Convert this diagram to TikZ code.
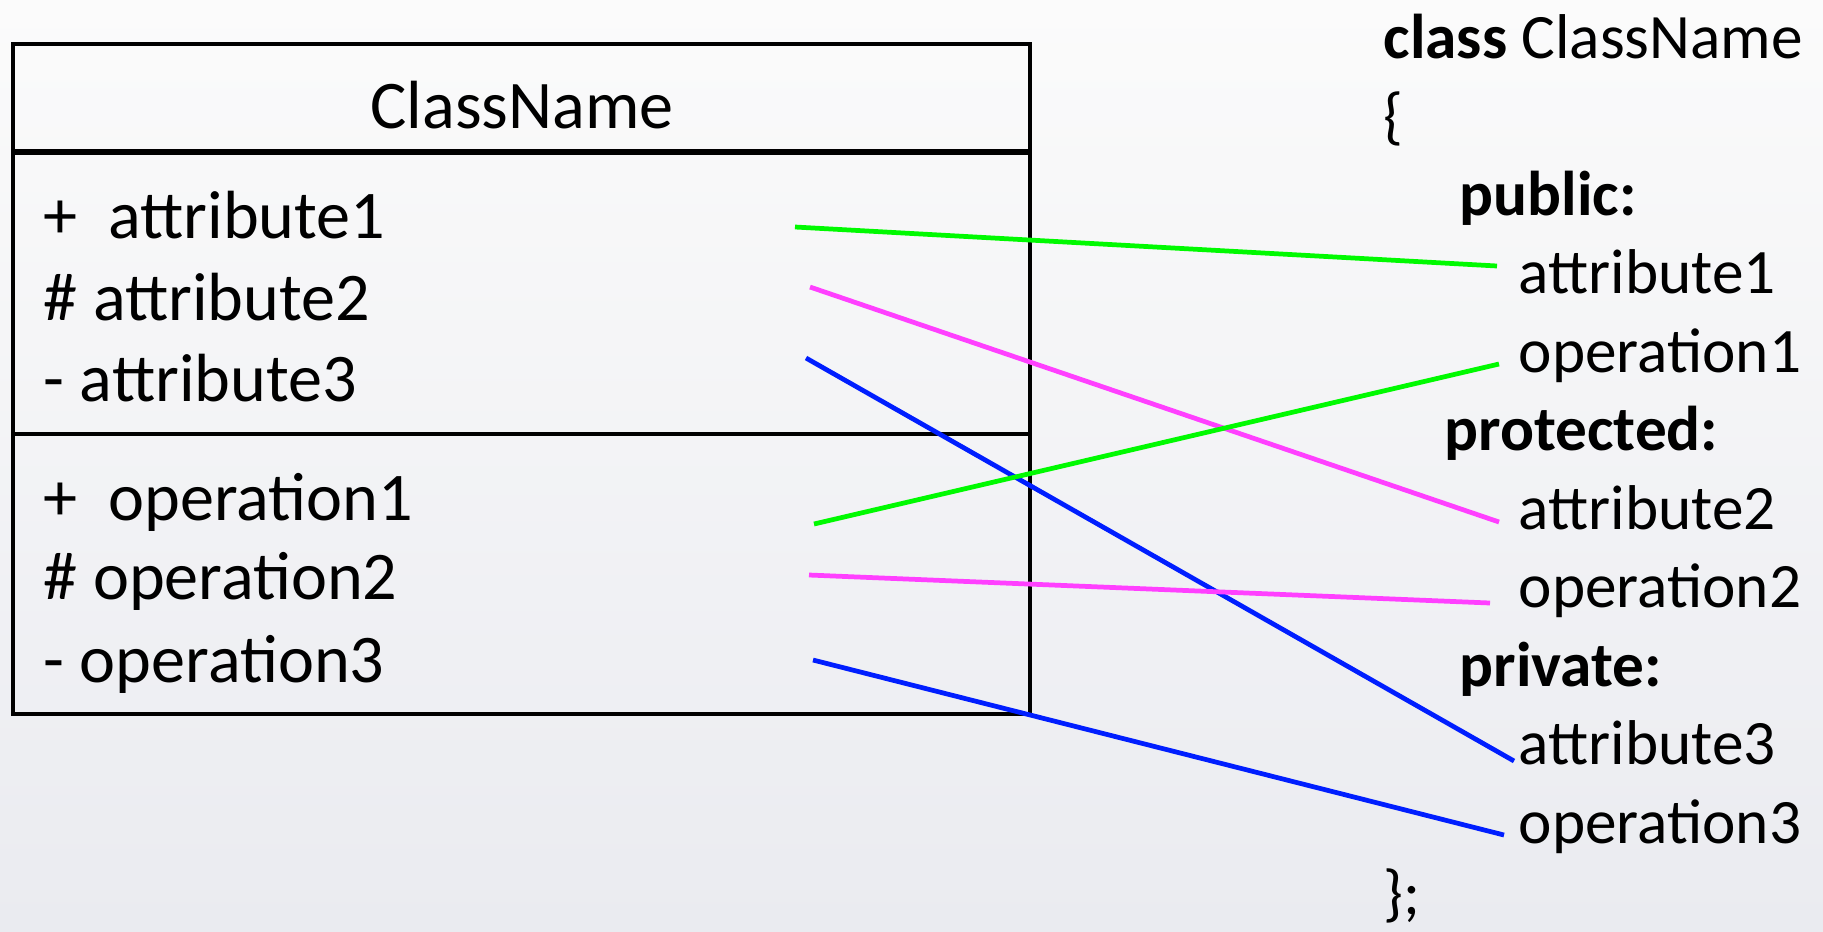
\documentclass[tikz,border=0pt]{standalone}
\usepackage{fontspec}
\setmainfont{Carlito}
\definecolor{bgtop}{RGB}{251,251,251}
\definecolor{bgbot}{RGB}{234,235,240}
\definecolor{lgreen}{RGB}{0,250,0}
\definecolor{lmag}{RGB}{255,64,255}
\definecolor{lblue}{RGB}{0,30,255}
\begin{document}
\begin{tikzpicture}[x=0.1mm,y=-0.1mm,
  lbl/.style={anchor=base west,inner sep=0pt,font=\fontsize{19.4pt}{22pt}\selectfont},
  rlbl/.style={anchor=base west,inner sep=0pt,font=\fontsize{18pt}{21pt}\selectfont},
  boxline/.style={line width=1pt},
  conn/.style={line width=1.35pt}]
\useasboundingbox (0,0) rectangle (1823,931);
\fill[top color=bgtop,bottom color=bgbot] (0,0) rectangle (1823,931);
% UML class box
\draw[boxline] (13,44) rectangle (1030,714);
\draw[line width=1.9pt] (13,152) -- (1030,152);
\draw[boxline] (13,434) -- (1030,434);
\node[lbl,anchor=base] (cn) at (522,128) {ClassName};
\node[lbl] (la1) at (43,238) {+\ \ attribute1};
\node[lbl] (la2) at (43,320) {\#\ attribute2};
\node[lbl] (la3) at (43,401) {-\ attribute3};
\node[lbl] (lo1) at (43,520) {+\ \ operation1};
\node[lbl] (lo2) at (43,599) {\#\ operation2};
\node[lbl] (lo3) at (43,682) {-\ operation3};
% C++ code
\node[rlbl] (rc) at (1383,58) {\textbf{class} ClassName};
\node[rlbl] (rob) at (1383,137) {\{};
\node[rlbl] (rpub) at (1459,215) {\textbf{public:}};
\node[rlbl] (ra1) at (1518,293) {attribute1};
\node[rlbl] (ro1) at (1518,372) {operation1};
\node[rlbl] (rpro) at (1444,450) {\textbf{protected:}};
\node[rlbl] (ra2) at (1518,529) {attribute2};
\node[rlbl] (ro2) at (1518,607) {operation2};
\node[rlbl] (rpri) at (1459,686) {\textbf{private:}};
\node[rlbl] (ra3) at (1518,764) {attribute3};
\node[rlbl] (ro3) at (1518,843) {operation3};
\node[rlbl] (rcb) at (1383,914) {\};};
% connector end points
\coordinate (pa1) at (795,227);
\coordinate (pa2) at (810,287);
\coordinate (pa3) at (806,358);
\coordinate (po1) at (814,524);
\coordinate (po2) at (809,575);
\coordinate (po3) at (813,660);
\coordinate (qa1) at (1497,266);
\coordinate (qo1) at (1499,364);
\coordinate (qa2) at (1499,522);
\coordinate (qo2) at (1490,603);
\coordinate (qa3) at (1514,761);
\coordinate (qo3) at (1504,835);
\draw[conn,lgreen] (pa1) -- (qa1);
\draw[conn,lmag] (pa2) -- (qa2);
\draw[conn,lblue] (pa3) -- (qa3);
\draw[conn,lgreen] (po1) -- (qo1);
\draw[conn,lmag] (po2) -- (qo2);
\draw[conn,lblue] (po3) -- (qo3);
\end{tikzpicture}
\end{document}
